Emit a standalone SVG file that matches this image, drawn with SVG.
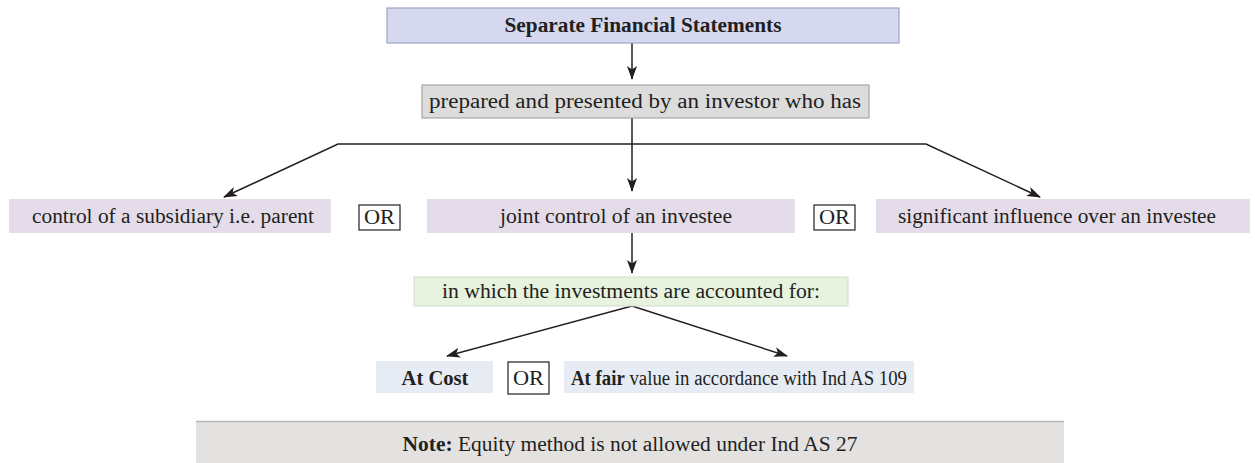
<svg xmlns="http://www.w3.org/2000/svg" width="1255" height="463" viewBox="0 0 1255 463">
<defs>
<style>
.t{font-family:"Liberation Serif","Times New Roman",serif;font-size:20px;fill:#231f20}
.b{font-weight:bold}
.c{stroke:#231f20;stroke-width:1.5;fill:none}
.or{fill:#fff;stroke:#231f20;stroke-width:1.2}
</style>
<marker id="ah" markerWidth="14" markerHeight="10" refX="13" refY="5" orient="auto" markerUnits="userSpaceOnUse">
<path d="M0,0 L14,5 L0,10 L3.5,5 z" fill="#231f20"/>
</marker>
<marker id="ahs" markerWidth="14" markerHeight="10" refX="1" refY="5" orient="auto" markerUnits="userSpaceOnUse">
<path d="M14,0 L0,5 L14,10 L10.5,5 z" fill="#231f20"/>
</marker>
</defs>
<rect width="1255" height="463" fill="#fff"/>

<g id="connectors">
<line class="c" x1="632" y1="43" x2="632" y2="79" marker-end="url(#ah)"/>
<line class="c" x1="632" y1="118" x2="632" y2="191" marker-end="url(#ah)"/>
<polyline class="c" points="224,197 338,144 926,144 1040,197" marker-start="url(#ahs)" marker-end="url(#ah)"/>
<line class="c" x1="632" y1="233" x2="632" y2="273" marker-end="url(#ah)"/>
<line class="c" x1="632" y1="306" x2="447" y2="356" marker-end="url(#ah)"/>
<line class="c" x1="632" y1="306" x2="787" y2="356" marker-end="url(#ah)"/>
</g>

<g id="n-sfs">
<rect x="387" y="8" width="512" height="35" fill="#d5d8ef" stroke="#a0a4c4" stroke-width="1.2"/>
<text class="t b" x="643" y="32" text-anchor="middle" textLength="277" lengthAdjust="spacingAndGlyphs">Separate Financial Statements</text>
</g>

<g id="n-prepared">
<rect x="422" y="85" width="447" height="33" fill="#dcdcdc" stroke="#a6a6a6" stroke-width="1.2"/>
<text class="t" x="645" y="108" text-anchor="middle" textLength="432" lengthAdjust="spacingAndGlyphs">prepared and presented by an investor who has</text>
</g>

<g id="n-control">
<rect x="9" y="199" width="322" height="34" fill="#e5dcea"/>
<text class="t" x="173" y="223" text-anchor="middle" textLength="282" lengthAdjust="spacingAndGlyphs">control of a subsidiary i.e. parent</text>
</g>
<g id="or1">
<rect class="or" x="359" y="205" width="41" height="25"/>
<text class="t" x="379.5" y="224" text-anchor="middle" textLength="31" lengthAdjust="spacingAndGlyphs">OR</text>
</g>
<g id="n-joint">
<rect x="427" y="199" width="368" height="34" fill="#e5dcea"/>
<text class="t" x="616" y="223" text-anchor="middle" textLength="232" lengthAdjust="spacingAndGlyphs">joint control of an investee</text>
</g>
<g id="or2">
<rect class="or" x="814" y="205" width="41" height="25"/>
<text class="t" x="834.5" y="224" text-anchor="middle" textLength="31" lengthAdjust="spacingAndGlyphs">OR</text>
</g>
<g id="n-significant">
<rect x="876" y="199" width="374" height="34" fill="#e5dcea"/>
<text class="t" x="1057" y="223" text-anchor="middle" textLength="318" lengthAdjust="spacingAndGlyphs">significant influence over an investee</text>
</g>

<g id="n-accounted">
<rect x="414" y="277" width="434" height="29" fill="#e7f2df" stroke="#d3dccb" stroke-width="1"/>
<text class="t" x="631" y="298" text-anchor="middle" textLength="378" lengthAdjust="spacingAndGlyphs">in which the investments are accounted for:</text>
</g>

<g id="n-cost">
<rect x="376" y="361" width="117" height="32" fill="#e7ecf4"/>
<text class="t b" x="435" y="385" text-anchor="middle" textLength="67" lengthAdjust="spacingAndGlyphs">At Cost</text>
</g>
<g id="or3">
<rect class="or" x="508" y="362" width="41" height="32"/>
<text class="t" x="528.5" y="385" text-anchor="middle" textLength="31" lengthAdjust="spacingAndGlyphs">OR</text>
</g>
<g id="n-fair">
<rect x="564" y="361" width="350" height="32" fill="#e7ecf4"/>
<text class="t" x="571" y="385" textLength="336" lengthAdjust="spacingAndGlyphs"><tspan class="b">At fair</tspan> value in accordance with Ind AS 109</text>
</g>

<g id="n-note">
<rect x="196" y="421" width="868" height="44" fill="#e3e2e0"/>
<line x1="196" y1="421.5" x2="1064" y2="421.5" stroke="#b8b8b8" stroke-width="1.5"/>
<text class="t" x="630" y="451" text-anchor="middle" textLength="455" lengthAdjust="spacingAndGlyphs"><tspan class="b">Note:</tspan> Equity method is not allowed under Ind AS 27</text>
</g>
</svg>
